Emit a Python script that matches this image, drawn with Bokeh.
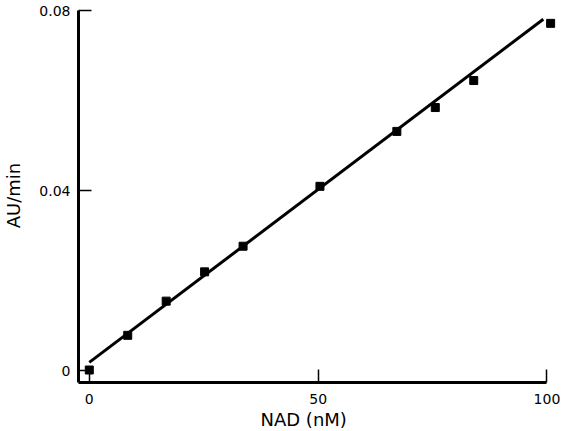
from bokeh.plotting import figure
from bokeh.models import FixedTicker, Range1d, Title
from bokeh.embed import file_html
from bokeh.resources import INLINE

# Data
nad_nM = [0, 8.4, 16.8, 25.2, 33.6, 50.4, 67.2, 75.6, 84.0, 100.8]
au_per_min = [0.0002, 0.0079, 0.0155, 0.0220, 0.0277, 0.0410, 0.0532, 0.0585, 0.0645, 0.0772]
fit_x = [0, 99.2]
fit_y = [0.0019, 0.0781]

x_ticks = [0, 50, 100]
x_tick_labels = ["0", "50", "100"]
y_ticks = [0, 0.04, 0.08]
y_tick_labels = ["0", "0.04", "0.08"]

FONT = "DejaVu Sans"

p = figure(width=560, height=430, output_backend="svg", toolbar_location=None,
           x_range=Range1d(-2.356, 102.3), y_range=Range1d(-0.002575, 0.0805))
p.min_border_left = 77
p.min_border_right = 3
p.min_border_top = 8
p.min_border_bottom = 48
p.outline_line_color = None
p.xgrid.visible = False
p.ygrid.visible = False
p.background_fill_color = "white"
p.border_fill_color = "white"

p.line(fit_x, fit_y, line_color="black", line_width=3)
p.scatter(nad_nM, au_per_min, marker="square", size=8, fill_color="black", line_color="black")

xa = p.xaxis[0]
xa.ticker = FixedTicker(ticks=x_ticks)
xa.major_label_overrides = {t: l for t, l in zip(x_ticks, x_tick_labels)}
xa.bounds = (-2.356, 100)

ya = p.yaxis[0]
ya.ticker = FixedTicker(ticks=y_ticks)
ya.major_label_overrides = {t: l for t, l in zip(y_ticks, y_tick_labels)}
ya.bounds = (-0.002575, 0.08)
ya.axis_label = "AU/min"

for ax in (xa, ya):
    ax.axis_line_width = 3
    ax.axis_line_color = "black"
    ax.major_tick_in = 13
    ax.major_tick_out = 0
    ax.major_tick_line_width = 1.5
    ax.major_tick_line_color = "black"
    ax.minor_tick_line_color = None
    ax.major_label_text_font = FONT
    ax.major_label_text_font_size = "14px"
    ax.major_label_text_color = "black"
    ax.axis_label_text_font = FONT
    ax.axis_label_text_font_size = "18px"
    ax.axis_label_text_font_style = "normal"
    ax.axis_label_text_color = "black"

xa.major_label_standoff = 11
ya.major_label_standoff = 8
ya.axis_label_standoff = 12

xlabel = Title(text="NAD (nM)", align="left", offset=182, standoff=0,
               text_font=FONT, text_font_size="18px", text_font_style="normal",
               text_color="black")
p.add_layout(xlabel, "below")

open("out.html", "w").write(file_html(p, INLINE))
